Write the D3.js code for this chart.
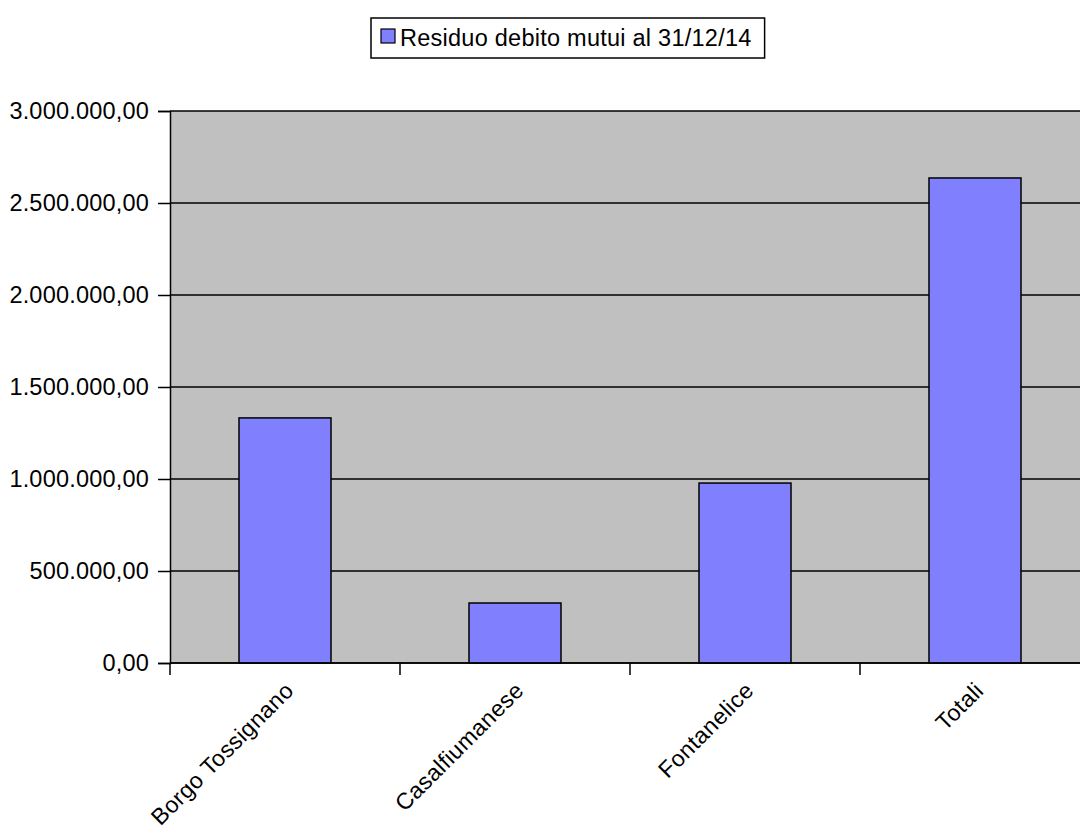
<!DOCTYPE html>
<html>
<head>
<meta charset="utf-8">
<script src="https://cdn.jsdelivr.net/npm/d3@7"></script>
<style>
  body { margin: 0; background: #fff; }
  text { font-family: "Liberation Sans", Arial, sans-serif; }
</style>
</head>
<body>
<div id="chart"></div>
<script>
// data
const categories = ["Borgo Tossignano", "Casalfiumanese", "Fontanelice", "Totali"];
const residuo = [1332000, 326000, 978000, 2636000];
const yTicks = [0, 500000, 1000000, 1500000, 2000000, 2500000, 3000000];
const seriesName = "Residuo debito mutui al 31/12/14";

const frame_width = 1080;
const frame_height = 831;
const plot = {left: 170, right: 1090, top: 111, bottom: 663};

const it = d3.formatLocale({decimal: ",", thousands: ".", grouping: [3], currency: ["", "€"]});
const fmt = it.format(",.2f");

const svg = d3.select("#chart")
    .append("svg")
        .attr("width", frame_width)
        .attr("height", frame_height);

const X_SCALE = d3.scaleBand()
    .domain(categories)
    .range([plot.left, plot.right])
    .paddingInner(0.6)
    .paddingOuter(0.3);

const Y_SCALE = d3.scaleLinear()
    .domain([0, 3000000])
    .range([plot.bottom, plot.top]);

// grey plot area
svg.append("rect")
    .attr("x", plot.left)
    .attr("y", plot.top)
    .attr("width", plot.right - plot.left)
    .attr("height", plot.bottom - plot.top)
    .attr("fill", "#c0c0c0");

// horizontal grid lines
svg.append("g")
    .selectAll("line")
    .data(yTicks)
    .enter()
    .append("line")
        .attr("x1", plot.left)
        .attr("x2", plot.right)
        .attr("y1", d => Y_SCALE(d))
        .attr("y2", d => Y_SCALE(d))
        .attr("stroke", "#000")
        .attr("stroke-width", 1.5);

// bars
svg.append("g")
    .selectAll("rect")
    .data(categories)
    .enter()
    .append("rect")
        .attr("x", d => X_SCALE(d))
        .attr("y", (d, i) => Y_SCALE(residuo[i]))
        .attr("width", X_SCALE.bandwidth())
        .attr("height", (d, i) => Y_SCALE(0) - Y_SCALE(residuo[i]))
        .attr("fill", "#8080ff")
        .attr("stroke", "#000")
        .attr("stroke-width", 1.5);

// y axis
const yAxis = svg.append("g")
    .attr("transform", "translate(" + plot.left + ",0)")
    .call(d3.axisLeft(Y_SCALE).tickValues(yTicks).tickSize(12).tickPadding(9).tickFormat(fmt));
yAxis.selectAll("text")
    .attr("font-size", "23.5px")
    .attr("font-family", "Liberation Sans, Arial, sans-serif")
    .attr("letter-spacing", "0.2px")
    .attr("fill", "#000");
yAxis.selectAll("line").attr("stroke-width", 1.5);
yAxis.select(".domain").attr("stroke-width", 1.5);

// x axis: tick marks at category boundaries
const step = X_SCALE.step();
const xAxis = svg.append("g");
xAxis.append("line")
    .attr("x1", plot.left)
    .attr("x2", plot.right)
    .attr("y1", plot.bottom)
    .attr("y2", plot.bottom)
    .attr("stroke", "#000")
    .attr("stroke-width", 1.5);
xAxis.selectAll(".tick")
    .data(categories)
    .enter()
    .append("line")
        .attr("x1", d => X_SCALE(d) - step * 0.3)
        .attr("x2", d => X_SCALE(d) - step * 0.3)
        .attr("y1", plot.bottom)
        .attr("y2", plot.bottom + 12)
        .attr("stroke", "#000")
        .attr("stroke-width", 1.5);

// rotated category labels
xAxis.selectAll("text")
    .data(categories)
    .enter()
    .append("text")
        .attr("text-anchor", "end")
        .attr("font-size", "23px")
        .attr("letter-spacing", "0.4px")
        .attr("transform", d => "translate(" + (X_SCALE(d) + X_SCALE.bandwidth() / 2 + 10) + "," + 692 + ") rotate(-45)")
        .text(d => d);

// legend
const legend = svg.append("g");
const legendBox = legend.append("rect")
    .attr("x", 371)
    .attr("y", 18)
    .attr("height", 40)
    .attr("fill", "#fff")
    .attr("stroke", "#000")
    .attr("stroke-width", 1.5);
legend.append("rect")
    .attr("x", 381)
    .attr("y", 29)
    .attr("width", 14)
    .attr("height", 14)
    .attr("fill", "#8080ff")
    .attr("stroke", "#000")
    .attr("stroke-width", 1.2);
const legendText = legend.append("text")
    .attr("x", 400)
    .attr("y", 46)
    .attr("font-size", "23.5px")
    .attr("letter-spacing", "0.25px")
    .text(seriesName);
legendBox.attr("width", legendText.node().getComputedTextLength() + 42);
</script>
</body>
</html>
